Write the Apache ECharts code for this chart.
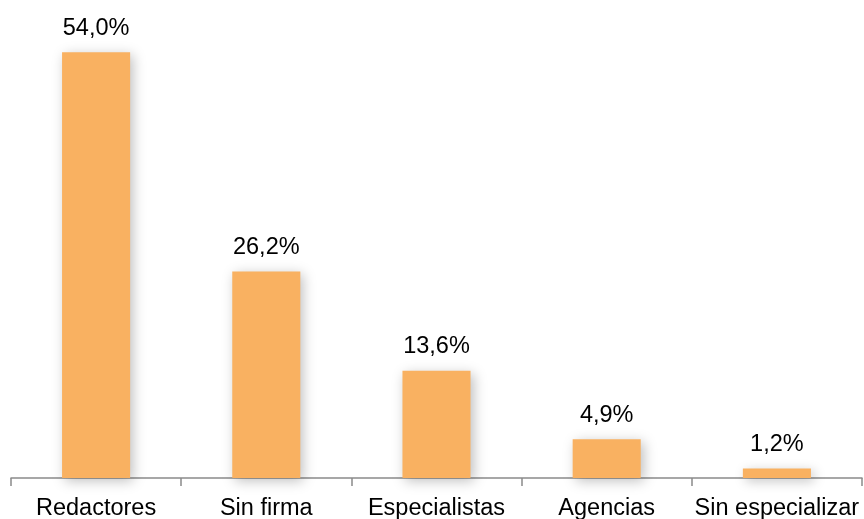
<!DOCTYPE html>
<html><head><meta charset="utf-8">
<script src="https://cdn.jsdelivr.net/npm/echarts@6/dist/echarts.min.js"></script>
<style>html,body{margin:0;padding:0;background:#fff}#c{width:864px;height:519px}</style>
</head><body><div id="c"></div>
<script>
const categories = ['Redactores','Sin firma','Especialistas','Agencias','Sin especializar'];
const values = [54.0, 26.2, 13.6, 4.9, 1.2];

const chart = echarts.init(document.getElementById('c'));
chart.setOption({
  animation: false,
  grid: {left: 11, right: 2, top: 5, bottom: 41, containLabel: false, outerBoundsMode: 'none'},
  xAxis: {
    type: 'category', data: categories,
    axisLine: {lineStyle: {color: '#8a8a8a', width: 1.5}},
    axisTick: {show: true, length: 8, lineStyle: {color: '#8a8a8a', width: 1.5}},
    axisLabel: {color: '#000', fontFamily: 'Liberation Sans', fontSize: 23.5, margin: 19, interval: 0}
  },
  yAxis: {type: 'value', min: 0, max: 60, show: false, splitLine: {show: false}},
  series: [{
    type: 'bar', data: values, barWidth: '40%',
    itemStyle: {color: '#F9B161', shadowColor: 'rgba(0,0,0,0.25)', shadowBlur: 12, shadowOffsetX: 3, shadowOffsetY: 3},
    label: {show: true, position: 'top', distance: 12, color: '#000', fontFamily: 'Liberation Sans', fontSize: 23.5,
      formatter: p => p.value.toFixed(1).replace('.', ',') + '%'}
  }]
});
</script></body></html>
